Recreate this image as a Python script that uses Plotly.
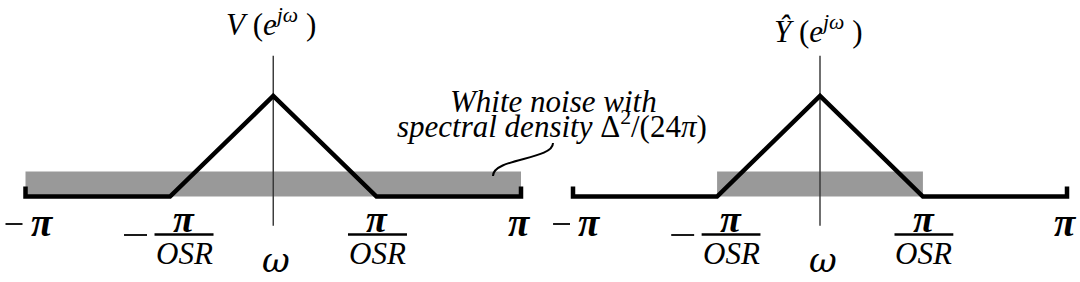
import numpy as np
import plotly.graph_objects as go

PI = np.pi
OSR = 2.4

# ---------------- data ----------------
# Left panel: input spectrum V(e^jw) (triangle) with end brackets
v_x = [-PI, -PI, -PI / OSR, 0.0, PI / OSR, PI, PI]
v_y = [0.1, 0.0, 0.0, 1.0, 0.0, 0.0, 0.1]
# Right panel: filtered output spectrum
y_x = [-PI, -PI, -PI / OSR, 0.0, PI / OSR, PI, PI]
y_y = [0.1, 0.0, 0.0, 1.0, 0.0, 0.0, 0.1]
# white-noise band (left: full band, right: after low-pass filtering)
noise_level = 0.25
noise_left_band = [-PI, PI]
noise_right_band = [-PI / OSR, PI / OSR]
# vertical axis extent
vaxis_y = [-0.29, 1.4]
# tick positions
tick_vals = [-PI, -PI / OSR, PI / OSR, PI]

SERIF = "Liberation Serif"
GREEK = "DejaVu Serif"
PI_TXT = "<b><i>\u03c0</i></b>"

fig = go.Figure()


def band(xr, lvl):
    return [xr[0], xr[1], xr[1], xr[0], xr[0]], [0, 0, lvl, lvl, 0]


for i, (sx, sy, nb) in enumerate([(v_x, v_y, noise_left_band), (y_x, y_y, noise_right_band)]):
    xa = "x" if i == 0 else "x2"
    ya = "y" if i == 0 else "y2"
    bx, by = band(nb, noise_level)
    fig.add_trace(go.Scatter(x=bx, y=by, mode="lines", fill="toself",
                             fillcolor="#999999", line=dict(width=0),
                             xaxis=xa, yaxis=ya, hoverinfo="skip"))
    fig.add_trace(go.Scatter(x=[0, 0], y=vaxis_y, mode="lines",
                             line=dict(color="#333333", width=1.4),
                             xaxis=xa, yaxis=ya, hoverinfo="skip"))
    fig.add_trace(go.Scatter(x=sx, y=sy, mode="lines",
                             line=dict(color="black", width=4.5),
                             xaxis=xa, yaxis=ya, hoverinfo="skip"))

# axis geometry (pixel placement of -pi..pi)
W, H = 1080, 282


def xrange_for(px_lo, px_hi, dom_px0, dom_px1):
    s = 2 * PI / (px_hi - px_lo)
    a = -PI - (px_lo - dom_px0) * s
    b = a + (dom_px1 - dom_px0) * s
    return [a, b]


yr = [(196.5 - H) / 100.5, 196.5 / 100.5]

fig.update_layout(
    width=W, height=H,
    margin=dict(l=0, r=0, t=0, b=0),
    paper_bgcolor="white", plot_bgcolor="white",
    showlegend=False,
    xaxis=dict(domain=[0, 0.5], range=xrange_for(25.5, 521, 0, 540), visible=False, fixedrange=True),
    yaxis=dict(domain=[0, 1], range=yr, visible=False, fixedrange=True),
    xaxis2=dict(domain=[0.5, 1], range=xrange_for(573, 1067, 540, 1080), visible=False, fixedrange=True),
    yaxis2=dict(domain=[0, 1], range=yr, visible=False, fixedrange=True, anchor="x2"),
)

ann = []
shapes = []
PXY = 100.5  # px per y unit
SX = 2 * PI / 495.5  # data units per px (x)


def ydat(px):
    return (196.5 - px) / PXY


def label(xa, ya, x, ypx, text, fam, size, xshift=0, yanchor="middle"):
    ann.append(dict(x=x, y=ydat(ypx), xref=xa, yref=ya, text=text,
                    showarrow=False, font=dict(family=fam, size=size, color="black"),
                    xanchor="center", yanchor=yanchor, xshift=xshift))


def hbar(xa, ya, x, px_lo, px_hi, ypx, w):
    shapes.append(dict(type="line", xref=xa, yref=ya,
                       x0=x + px_lo * SX, x1=x + px_hi * SX,
                       y0=ydat(ypx), y1=ydat(ypx),
                       line=dict(color="black", width=w)))


for xa, ya in [("x", "y"), ("x2", "y2")]:
    # -pi
    hbar(xa, ya, tick_vals[0], -20, -3, 224, 1.8)
    label(xa, ya, tick_vals[0], 222, PI_TXT, SERIF, 39, 16.5)
    # pi
    label(xa, ya, tick_vals[3], 222, PI_TXT, SERIF, 39, -2)
    # fractions
    for tv, fs in [(tick_vals[1], 14), (tick_vals[2], 1)]:
        label(xa, ya, tv, 218.5, PI_TXT, SERIF, 38, fs)
        label(xa, ya, tv, 253, "<i>OSR</i>", SERIF, 31, fs)
        hbar(xa, ya, tv, fs - 29.5, fs + 29.5, 234.5, 2.6)
    # minus sign for -pi/OSR
    hbar(xa, ya, tick_vals[1], -46, -23, 235, 1.8)
    # omega axis label
    label(xa, ya, 0, 281.5, "<i>\u03c9</i>", GREEK, 34, 3, yanchor="bottom")

label("x", "y", 0, 22, "<i>V</i> (<i>e</i><sup><i>j\u03c9</i></sup> )", SERIF, 31, -2)
label("x2", "y2", 0, 29, "<i>\u0176</i> (<i>e</i><sup><i>j\u03c9</i></sup> )", SERIF, 31, -2)

ann.append(dict(x=553.5 / W, y=1 - 102 / H, xref="paper", yref="paper",
                text="<i>White noise with</i>", showarrow=False,
                font=dict(family=SERIF, size=31, color="black"),
                xanchor="center", yanchor="middle"))
ann.append(dict(x=551.5 / W, y=1 - 125 / H, xref="paper", yref="paper",
                text="<i>spectral density</i> \u0394<sup>2</sup>/(24<i>\u03c0</i>)", showarrow=False,
                font=dict(family=SERIF, size=31, color="black"),
                xanchor="center", yanchor="middle"))

# leader curve from text to the noise band
p = [(493, 176), (493, 158), (553, 160), (553, 143)]
path = "M {},{} C {},{} {},{} {},{}".format(*[v for pt in p for v in (pt[0] / W, 1 - pt[1] / H)])
shapes.append(dict(type="path", xref="paper", yref="paper", path=path,
                   line=dict(color="black", width=2)))

fig.update_layout(annotations=ann, shapes=shapes)
fig.write_html("out.html")
